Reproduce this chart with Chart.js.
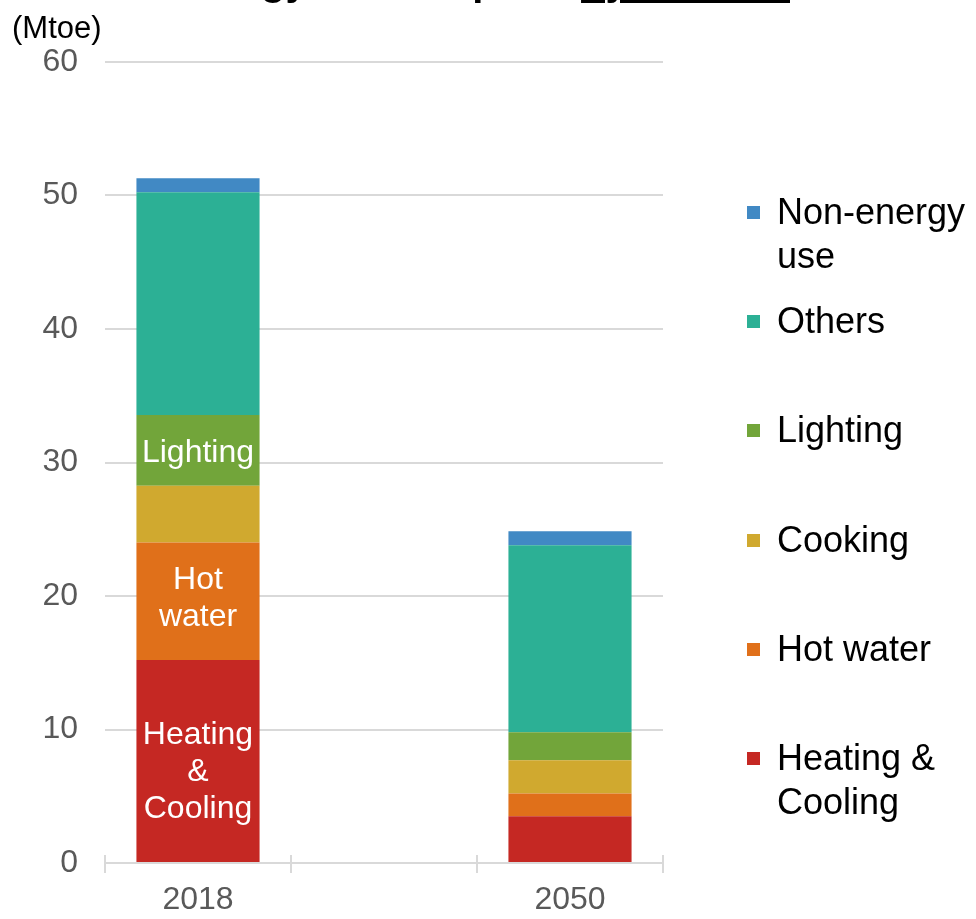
<!DOCTYPE html>
<html><head><meta charset="utf-8">
<script src="https://cdn.jsdelivr.net/npm/chart.js@4/dist/chart.umd.min.js"></script>
<style>
html,body{margin:0;padding:0;width:976px;height:919px;overflow:hidden;background:#fff;font-family:"Liberation Sans",Arial,sans-serif;}
#wrap{position:relative;width:976px;height:919px;overflow:hidden;}
#chart{position:absolute;left:0;top:0;}
#title{position:absolute;top:-39px;right:186px;font-weight:bold;font-size:40px;line-height:40px;white-space:nowrap;color:#000;}
#title u{text-decoration-thickness:3px;text-underline-offset:5px;}
#unit{position:absolute;left:12px;top:10px;font-size:31px;line-height:36px;color:#000;}
#legend{position:absolute;left:747px;top:0;width:229px;height:919px;}
.item{position:absolute;left:0;width:229px;display:flex;align-items:flex-start;}
.sw{width:13px;height:13px;margin-top:16px;flex:none;}
.lt{margin-left:17px;font-size:36px;line-height:44px;color:#000;white-space:pre;}
</style></head>
<body>
<div id="wrap">
  <canvas id="chart" width="976" height="919"></canvas>
  <div id="title">Final energy consumption <u>by end use</u></div>
  <div id="unit">(Mtoe)</div>
  <div id="legend"></div>
</div>
<script>
// ---- data ----
const categories = ['2018', '', '2050'];
const seriesNames = ['Heating &\nCooling', 'Hot water', 'Cooking', 'Lighting', 'Others', 'Non-energy\nuse'];
const heatingCooling = [15.2, null, 3.5];
const hotWater       = [8.8,  null, 1.7];
const cooking        = [4.25, null, 2.5];
const lighting       = [5.3,  null, 2.1];
const others         = [16.7, null, 14.0];
const nonEnergyUse   = [1.05, null, 1.05];
const barLabels = ['Heating\n&\nCooling', 'Hot\nwater', '', 'Lighting', '', ''];
const yTicks = [0, 10, 20, 30, 40, 50, 60];

// ---- styles ----
const seriesColors = ['#c52823', '#e0701a', '#d0a92f', '#72a53a', '#2cb095', '#4189c4'];
const labelNudge = [11, -3, 0, 3, 0, 0];
const FAMILY = '"Liberation Sans", Arial, sans-serif';

const seriesValues = [heatingCooling, hotWater, cooking, lighting, others, nonEnergyUse];
const datasets = seriesValues.map((vals, i) => ({
  label: seriesNames[i].replace('\n', ' '),
  data: vals,
  backgroundColor: seriesColors[i],
  borderWidth: 0,
  categoryPercentage: 1.0,
  barPercentage: 0.662
}));

const inBarLabels = {
  id: 'inBarLabels',
  afterDatasetsDraw(chart) {
    const ctx = chart.ctx;
    ctx.save();
    ctx.fillStyle = '#ffffff';
    ctx.font = '32px ' + FAMILY;
    ctx.textAlign = 'center';
    ctx.textBaseline = 'middle';
    chart.data.datasets.forEach((ds, i) => {
      const txt = barLabels[i];
      if (!txt) return;
      const el = chart.getDatasetMeta(i).data[0];
      const lines = txt.split('\n');
      const cy = (el.y + el.base) / 2 + labelNudge[i];
      const lh = 37;
      lines.forEach((l, k) => ctx.fillText(l, el.x, cy + (k - (lines.length - 1) / 2) * lh));
    });
    ctx.restore();
  }
};

// tick marks on the category axis also reach a little above the axis line
const crossTicks = {
  id: 'crossTicks',
  afterDraw(chart) {
    const xs = chart.scales.x;
    const ctx = chart.ctx;
    const bottom = chart.chartArea.bottom;
    ctx.save();
    ctx.strokeStyle = '#d9d9d9';
    ctx.lineWidth = 2;
    for (let i = 0; i <= categories.length; i++) {
      const px = Math.round(xs.getPixelForValue(i - 0.5));
      ctx.beginPath();
      ctx.moveTo(px, bottom - 8);
      ctx.lineTo(px, bottom);
      ctx.stroke();
    }
    ctx.restore();
  }
};

const chart = new Chart(document.getElementById('chart'), {
  type: 'bar',
  data: { labels: categories, datasets },
  plugins: [inBarLabels, crossTicks],
  options: {
    responsive: false,
    animation: false,
    devicePixelRatio: 1,
    layout: { padding: { left: 0, right: 313, top: 62, bottom: 0 } },
    plugins: { legend: { display: false }, tooltip: { enabled: false }, title: { display: false } },
    scales: {
      x: {
        stacked: true,
        grid: { offset: true, drawOnChartArea: false, drawTicks: true, tickLength: 10, color: '#d9d9d9', lineWidth: 2 },
        border: { display: true, color: '#d9d9d9', width: 2 },
        ticks: { color: '#595959', font: { size: 32, family: FAMILY }, padding: 8, maxRotation: 0, autoSkip: false },
        afterFit(s) { s.height = 56; }
      },
      y: {
        stacked: true,
        min: yTicks[0],
        max: yTicks[yTicks.length - 1],
        afterBuildTicks(s) { s.ticks = yTicks.map(v => ({ value: v })); },
        ticks: { color: '#595959', font: { size: 32, family: FAMILY }, padding: 27 },
        grid: { color: '#d9d9d9', lineWidth: 2, drawTicks: false },
        border: { display: false },
        afterFit(s) { s.width = 105; }
      }
    }
  }
});

// ---- HTML legend (top series first) ----
const legend = document.getElementById('legend');
for (let i = seriesNames.length - 1, k = 0; i >= 0; i--, k++) {
  const item = document.createElement('div');
  item.className = 'item';
  item.style.top = (190 + k * 109.2) + 'px';
  const sw = document.createElement('div');
  sw.className = 'sw';
  sw.style.background = seriesColors[i];
  const lt = document.createElement('div');
  lt.className = 'lt';
  lt.textContent = seriesNames[i];
  item.appendChild(sw);
  item.appendChild(lt);
  legend.appendChild(item);
}
</script>
</body></html>
